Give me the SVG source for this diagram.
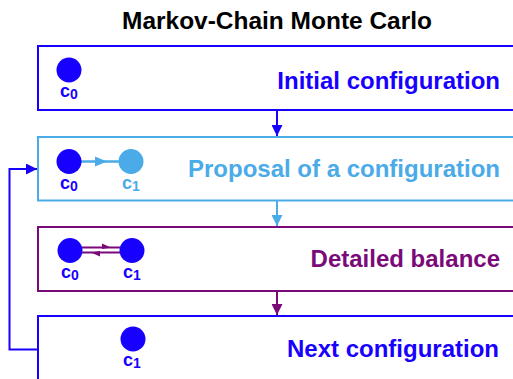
<svg xmlns="http://www.w3.org/2000/svg" width="513" height="379" viewBox="0 0 513 379">
<style>
.t{font-family:"Liberation Sans",Arial,sans-serif;font-weight:bold}
.big{font-size:24px;text-anchor:end}
.lc{font-size:18px}
.ls{font-size:14px}
.b{fill:#1800ff}.lb{fill:#4aabe8}.pu{fill:#7a0a7a}
.box{fill:#fff;stroke-width:2}
</style>
<defs>
<marker id="ab" viewBox="0 0 10 10" refX="10" refY="5" markerWidth="11" markerHeight="11" markerUnits="userSpaceOnUse" orient="auto"><path d="M0,0 L10,5 L0,10 Z" fill="#1800ff"/></marker>
<marker id="alb" viewBox="0 0 10 10" refX="10" refY="5" markerWidth="11" markerHeight="11" markerUnits="userSpaceOnUse" orient="auto"><path d="M0,0 L10,5 L0,10 Z" fill="#4aabe8"/></marker>
<marker id="apu" viewBox="0 0 10 10" refX="10" refY="5" markerWidth="11" markerHeight="11" markerUnits="userSpaceOnUse" orient="auto"><path d="M0,0 L10,5 L0,10 Z" fill="#7a0a7a"/></marker>
</defs>
<rect width="513" height="379" fill="#fff"/>
<text class="t" x="277" y="29" font-size="24" text-anchor="middle" fill="#000" textLength="310" lengthAdjust="spacingAndGlyphs">Markov-Chain Monte Carlo</text>

<g id="connectors" fill="none" stroke-width="2">
<line x1="277" y1="110" x2="277" y2="136" stroke="#1800ff" marker-end="url(#ab)"/>
<line x1="277" y1="201" x2="277" y2="226" stroke="#4aabe8" marker-end="url(#alb)"/>
<line x1="277" y1="291" x2="277" y2="315" stroke="#7a0a7a" marker-end="url(#apu)"/>
<polyline points="38,349.5 9.5,349.5 9.5,169 37,169" stroke="#1800ff" marker-end="url(#ab)"/>
</g>

<g id="initial">
<rect class="box" x="38" y="46" width="500" height="64" stroke="#1800ff"/>
<circle cx="69" cy="70" r="12.5" class="b"/>
<text class="t b" x="60" y="97"><tspan class="lc">c</tspan><tspan class="ls" dy="2">0</tspan></text>
<text class="t big b" x="500" y="89">Initial configuration</text>
</g>

<g id="proposal">
<rect class="box" x="38" y="137" width="500" height="63.5" stroke="#4aabe8"/>
<line x1="81" y1="161.5" x2="119" y2="161.5" stroke="#4aabe8" stroke-width="2.5"/>
<path d="M95,156.5 L107,161.5 L95,166.5 Z" class="lb"/>
<circle cx="69" cy="161.5" r="12.5" class="b"/>
<circle cx="131" cy="161.5" r="12.5" class="lb"/>
<text class="t b" x="60" y="189"><tspan class="lc">c</tspan><tspan class="ls" dy="2">0</tspan></text>
<text class="t lb" x="122" y="189"><tspan class="lc">c</tspan><tspan class="ls" dy="2">1</tspan></text>
<text class="t big lb" x="500" y="177">Proposal of a configuration</text>
</g>

<g id="balance">
<rect class="box" x="38" y="227" width="500" height="64" stroke="#7a0a7a"/>
<line x1="82" y1="247.5" x2="120" y2="247.5" stroke="#7a0a7a" stroke-width="2"/>
<line x1="82" y1="252.5" x2="120" y2="252.5" stroke="#7a0a7a" stroke-width="2"/>
<path d="M102,243.5 L111,247.5 L102,249 Z" class="pu"/>
<path d="M100,251 L91,252.5 L100,256.5 Z" class="pu"/>
<circle cx="70" cy="250.5" r="12.5" class="b"/>
<circle cx="132" cy="250.5" r="12.5" class="b"/>
<text class="t b" x="61" y="278"><tspan class="lc">c</tspan><tspan class="ls" dy="2">0</tspan></text>
<text class="t b" x="123" y="278"><tspan class="lc">c</tspan><tspan class="ls" dy="2">1</tspan></text>
<text class="t big pu" x="500" y="267">Detailed balance</text>
</g>

<g id="next">
<rect class="box" x="38" y="316" width="500" height="80" stroke="#1800ff"/>
<circle cx="133" cy="339" r="12.5" class="b"/>
<text class="t b" x="123" y="366"><tspan class="lc">c</tspan><tspan class="ls" dy="2">1</tspan></text>
<text class="t big b" x="499" y="357">Next configuration</text>
</g>
</svg>
